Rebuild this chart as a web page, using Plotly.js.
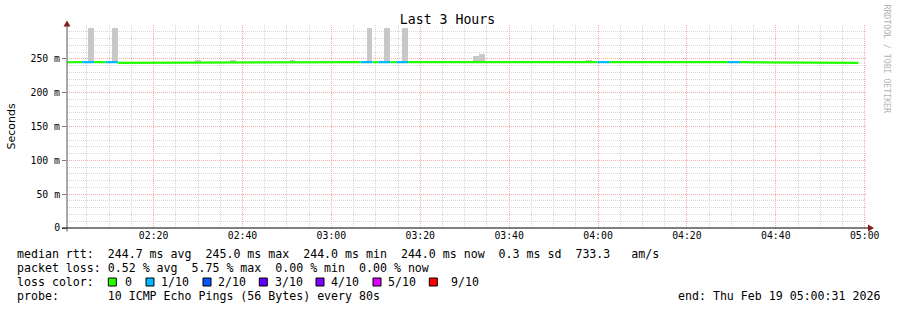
<!DOCTYPE html>
<html><head><meta charset="utf-8">
<script src="https://cdn.plot.ly/plotly-3.0.1.min.js"></script>
<style>html,body{margin:0;padding:0;background:#fff;}#chart{width:897px;height:310px;}</style>
</head><body><div id="chart"></div>
<script>
// ---------------- data (80 s RRD steps, first step starts 01:59:55) ----------------
const firstStepStart = Date.UTC(2026, 1, 19, 1, 59, 55);
const stepSeconds = 80;
const viewStart = '2026-02-19 02:00:31';
const viewEnd   = '2026-02-19 05:00:31';

// median round-trip time per step (ms)
const medianMs = [
  245,245,245,245,245,245,245,245,245,244,
  245,245,244,245,245,245,245,245,245,245,
  245,245,245,245,244,245,245,245,245,245,
  245,245,245,245,245,245,245,245,245,245,
  245,245,245,245,245,245,244,245,245,245,
  245,245,245,245,245,245,245,245,245,245,
  245,245,245,245,245,245,245,245,245,245,
  245,245,245,244,244,244,245,245,245,245,
  245,245,245,245,245,245,245,245,245,245,
  245,245,245,245,245,245,245,245,245,245,
  245,245,245,245,245,245,245,245,245,245,
  245,245,245,245,245,245,245,245,244,244,
  245,245,244,245,245,245,245,245,245,244,
  245,245,244,244
];
// lost pings (out of 10) per step
const lostPings = [
  0,0,0,1,1,0,0,1,1,0,
  0,0,0,0,0,0,0,0,0,0,
  0,0,0,0,0,0,0,0,0,0,
  0,0,0,0,0,0,0,0,0,0,
  0,0,0,0,0,0,0,0,0,0,
  1,1,0,1,1,0,1,1,0,0,
  0,0,0,0,0,0,0,0,0,0,
  0,0,0,0,0,0,0,0,0,0,
  0,0,0,0,0,0,0,0,0,0,
  1,1,0,0,0,0,0,0,0,0,
  0,0,0,0,0,0,0,0,0,0,
  0,0,1,1,0,0,0,0,0,0,
  0,0,0,0,0,0,0,0,0,0,
  0,0,0,0
];
// highest ping per step where smoke is visible above the median (ms), null = none
const smokeMaxMs = [
  null,null,null,null,296,null,null,null,296,null,
  null,null,null,null,null,null,null,null,null,null,
  null,null,248.5,null,null,null,null,null,248.5,null,
  null,null,null,null,null,null,null,null,248.5,null,
  null,null,null,null,null,null,null,null,null,null,
  null,296,null,null,296,null,null,296,null,null,
  null,null,null,null,null,null,null,null,null,254.5,
  257.5,null,null,null,null,null,null,null,null,null,
  null,null,null,null,null,null,null,null,248.5,null,
  null,null,null,null,null,null,null,null,null,null,
  null,null,null,null,null,null,null,null,null,null,
  null,null,null,null,null,null,null,null,null,null,
  null,null,null,null,null,null,null,null,null,null,
  null,null,null,null
];
const lossLevels = [0, 1, 2, 3, 4, 5, 9];
const lossLabels = ['0', '1/10', '2/10', '3/10', '4/10', '5/10', '9/10'];
const lossColors = ['#26ff00', '#00b8ff', '#0059ff', '#5e00ff', '#7e00ff', '#dd00ff', '#ff0000'];
const yTickVals = [0, 0.05, 0.10, 0.15, 0.20, 0.25];
const yTickText = ['0', '50 m', '100 m', '150 m', '200 m', '250 m'];

const titleText = 'Last 3 Hours';
const yTitleText = 'Seconds';
const lineMedian = 'median rtt:  244.7 ms avg  245.0 ms max  244.0 ms min  244.0 ms now  0.3 ms sd  733.3   am/s';
const linePacket = 'packet loss: 0.52 % avg  5.75 % max  0.00 % min  0.00 % now';
const lineLossHead = 'loss color:';
const lineProbe = 'probe:       10 ICMP Echo Pings (56 Bytes) every 80s';
const lineEnd = 'end: Thu Feb 19 05:00:31 2026';
const watermark = 'RRDTOOL / TOBI OETIKER';

// ---------------- helpers ----------------
function iso(ms) {
  const d = new Date(ms), p = n => String(n).padStart(2, '0');
  return d.getUTCFullYear() + '-' + p(d.getUTCMonth() + 1) + '-' + p(d.getUTCDate()) + ' ' +
    p(d.getUTCHours()) + ':' + p(d.getUTCMinutes()) + ':' + p(d.getUTCSeconds());
}
const nb = s => s.replace(/ /g, '\u00a0');
// pixel -> paper (plot area: x 67..867, y 228..25)
const PX = x => (x - 67) / 800;
const PY = y => (228 - y) / 203;
function lossIndex(l) { let j = 0; for (let k = 0; k < lossLevels.length; k++) if (l >= lossLevels[k]) j = k; return j; }

const stepMs = stepSeconds * 1000;
const n = medianMs.length;
const bStart = i => firstStepStart + i * stepMs;

// smoke bars
const sx = [], sy = [], sb = [];
for (let i = 0; i < n; i++) {
  if (smokeMaxMs[i] === null) continue;
  sx.push(iso(bStart(i) + stepMs / 2));
  sb.push(medianMs[i] / 1000);
  sy.push((smokeMaxMs[i] - medianMs[i]) / 1000);
}
const traces = [{
  type: 'bar', x: sx, y: sy, base: sb, width: stepMs,
  marker: { color: '#c8c8c8', line: { width: 0 } }, hoverinfo: 'skip'
}];

// median line split by loss colour
const segs = lossColors.map(() => ({ x: [], y: [] }));
let prev = -1;
for (let i = 0; i < n; i++) {
  const c = lossIndex(lostPings[i]);
  const s = segs[c];
  if (c !== prev && s.x.length) { s.x.push(null); s.y.push(null); }
  s.x.push(iso(bStart(i)), iso(bStart(i + 1)));
  s.y.push(medianMs[i] / 1000, medianMs[i] / 1000);
  prev = c;
}
segs.forEach((s, c) => {
  if (!s.x.length) return;
  traces.push({ type: 'scatter', mode: 'lines', x: s.x, y: s.y, connectgaps: false,
    line: { color: lossColors[c], width: 2.2 }, hoverinfo: 'skip' });
});

// ---------------- annotations & shapes ----------------
const mono = 'DejaVu Sans Mono';
const ann = (text, x, y, opts) => Object.assign({
  text: nb(text), xref: 'paper', yref: 'paper', x: PX(x), y: PY(y), showarrow: false,
  xanchor: 'left', yanchor: 'middle', borderpad: 0,
  font: { family: mono, size: 11.6, color: '#000' }
}, opts || {});
const annotations = [
  ann(lineMedian, 16, 253.6),
  ann(linePacket, 16, 267.8),
  ann(lineLossHead, 16, 281.9),
  ann(lineProbe, 16, 296.1),
  ann(lineEnd, 880.5, 296.1, { xanchor: 'right' }),
  ann(yTitleText, 11, 126.5, { xanchor: 'center', textangle: -90, font: { family: 'DejaVu Sans', size: 11, color: '#000' } }),
  ann(watermark, 886.5, 59, { xanchor: 'center', textangle: 90, font: { family: mono, size: 8.2, color: '#b4b4b4' } })
];
const sqX = [108.3, 146, 203, 259.3, 316, 373, 429.3];
const lblX = [123.5, 160.3, 217, 273.7, 330.4, 387, 449.7];
const shapes = [];
lossLabels.forEach((lab, j) => {
  annotations.push(ann(lab, lblX[j], 281.9));
  shapes.push({ type: 'rect', xref: 'paper', yref: 'paper', x0: PX(sqX[j]), x1: PX(sqX[j] + 8),
    y0: PY(286), y1: PY(278), fillcolor: lossColors[j], line: { color: '#000', width: 1 } });
});
// axes lines and arrows
shapes.push({ type: 'line', xref: 'paper', yref: 'paper', x0: PX(67), x1: PX(67), y0: PY(231.5), y1: PY(23),
  line: { color: '#555', width: 1 } });
shapes.push({ type: 'line', xref: 'paper', yref: 'paper', x0: PX(62), x1: PX(869), y0: PY(228), y1: PY(228),
  line: { color: '#000', width: 1 } });
shapes.push({ type: 'path', xref: 'paper', yref: 'paper',
  path: `M ${PX(63.5)} ${PY(26.5)} L ${PX(70.5)} ${PY(26.5)} L ${PX(67)} ${PY(20.5)} Z`,
  fillcolor: '#7f1f1f', line: { width: 0 } });
shapes.push({ type: 'path', xref: 'paper', yref: 'paper',
  path: `M ${PX(868)} ${PY(224.5)} L ${PX(868)} ${PY(231.5)} L ${PX(874)} ${PY(228)} Z`,
  fillcolor: '#7f1f1f', line: { width: 0 } });

const majorGrid = '#f5abab', minorGrid = '#d6d6d6';
const layout = {
  width: 897, height: 310,
  margin: { l: 67, r: 30, t: 25, b: 82 },
  paper_bgcolor: '#fff', plot_bgcolor: '#fff',
  showlegend: false, barmode: 'overlay', bargap: 0,
  font: { family: mono, color: '#000' },
  title: { text: titleText, xref: 'container', yref: 'container', x: 447.5 / 897, y: 1 - 19.5 / 310,
    xanchor: 'center', yanchor: 'middle', font: { family: mono, size: 13.2, color: '#000' } },
  xaxis: {
    type: 'date', range: [viewStart, viewEnd], tickformat: '%H:%M',
    tick0: '2026-02-19 02:20:00', dtick: 1200000,
    showgrid: true, gridcolor: majorGrid, griddash: '1px,1px', gridwidth: 1,
    minor: { tick0: '2026-02-19 02:20:00', dtick: 300000, showgrid: true, gridcolor: minorGrid, griddash: '1px,1px', gridwidth: 1 },
    zeroline: false, showline: false, ticks: '', fixedrange: true,
    tickfont: { family: mono, size: 9.8, color: '#000' }
  },
  yaxis: {
    range: [0, 0.2999], tickmode: 'array', tickvals: yTickVals, ticktext: yTickText,
    showgrid: true, gridcolor: majorGrid, griddash: '1px,1px', gridwidth: 1,
    minor: { dtick: 0.01, tick0: 0, showgrid: true, gridcolor: minorGrid, griddash: '1px,1px', gridwidth: 1 },
    zeroline: false, showline: false, ticks: 'outside', ticklen: 4, tickcolor: '#777', tickwidth: 1,
    tickfont: { family: mono, size: 9.8, color: '#000' }, fixedrange: true
  },
  annotations: annotations,
  shapes: shapes
};
Plotly.newPlot('chart', traces, layout, { staticPlot: true, displayModeBar: false });
</script>
</body></html>
